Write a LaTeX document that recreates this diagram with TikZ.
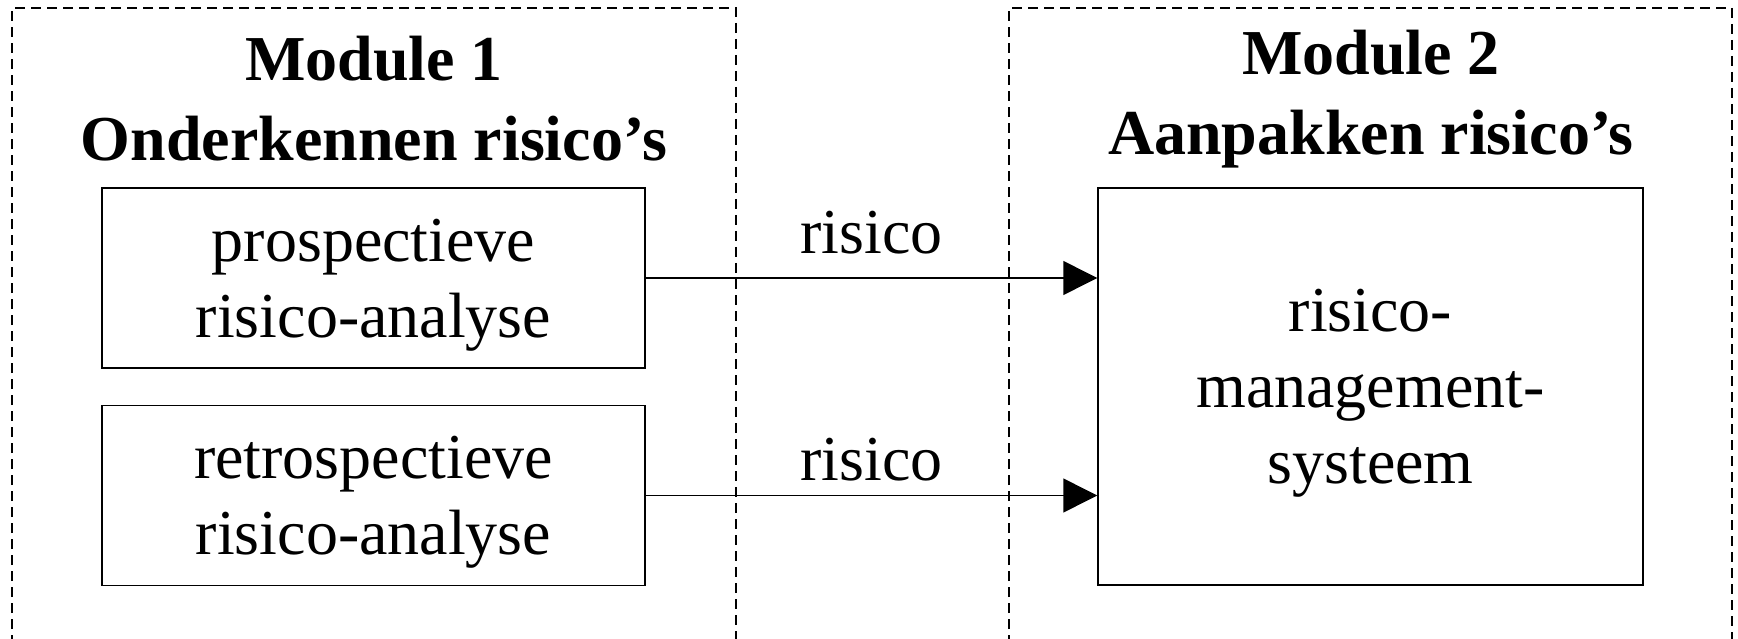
\documentclass[tikz,border=0pt]{standalone}
\usepackage{fontspec}
\setmainfont{Liberation Serif}
\usetikzlibrary{arrows.meta}

\begin{document}
\begin{tikzpicture}[x=1pt, y=-1pt,
    font=\fontsize{64}{76}\selectfont,
    box/.style = {draw, line width=1.5pt, align=center, inner sep=0pt, text depth=0pt},
    module/.style = {dash pattern=on 10pt off 6pt, line width=1.2pt},
    title/.style = {align=center, font=\fontsize{64}{80}\selectfont\bfseries},
    flow/.style = {-{Triangle[length=34pt,width=34pt]}, line width=1.5pt}]
	\useasboundingbox (0,0) rectangle (1738,639);
	% module frames, open at the bottom
	\draw[module] (12,645) -- (12,8) -- (736,8) -- (736,645);
	\draw[module] (1009,645) -- (1009,8) -- (1732,8) -- (1732,645);
	\node[title] (m1) at (374,99) {Module 1\\Onderkennen risico’s};
	\node[title] (m2) at (1371,99) {Module 2\\Aanpakken risico’s};
	\node[box, minimum width=543pt, minimum height=180pt] (pros) at (373.5,278) {prospectieve\\risico-analyse};
	\node[box, minimum width=543pt, minimum height=180pt] (retro) at (373.5,495.5) {retrospectieve\\risico-analyse};
	\node[box, minimum width=545pt, minimum height=397pt] (rms) at (1370.5,386.5) {risico-\\management-\\systeem};
	\draw[flow] (pros.east) -- node[above=23pt, inner sep=0pt] (r1) {risico} (pros.east -| rms.west);
	\draw[flow] (retro.east) -- node[above=14pt, inner sep=0pt] (r2) {risico} (retro.east -| rms.west);
\end{tikzpicture}
\end{document}
